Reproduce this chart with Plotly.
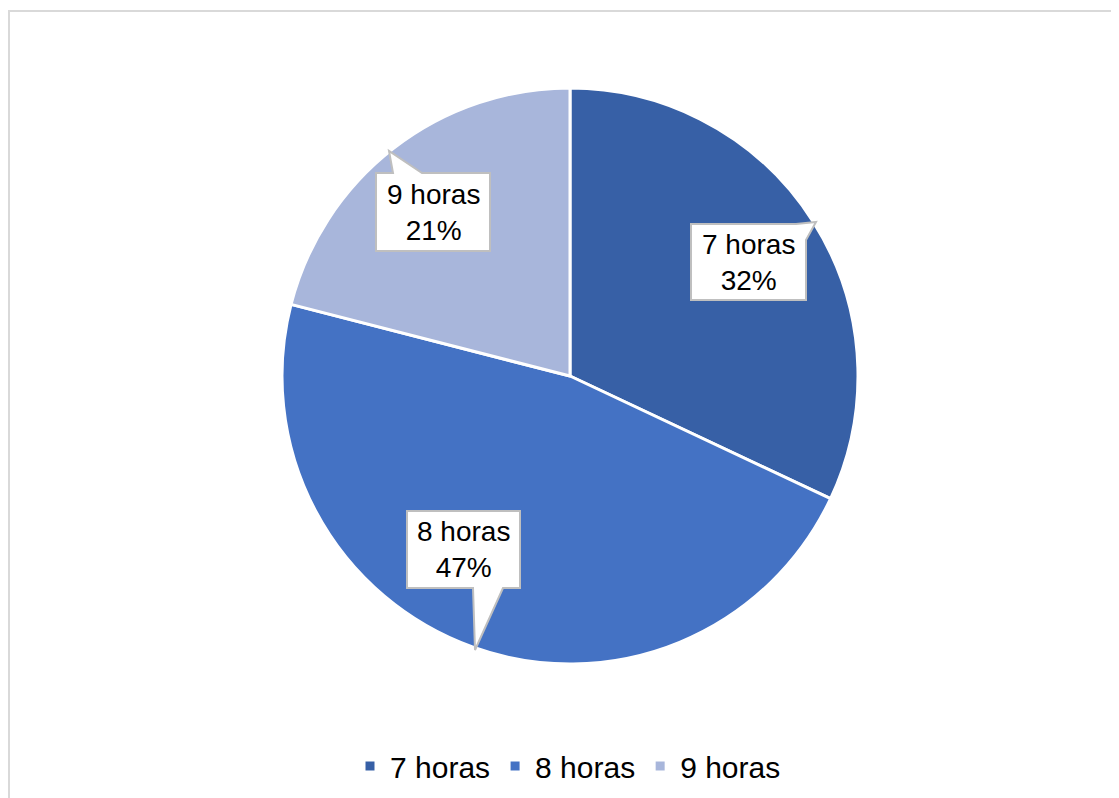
import plotly.graph_objects as go

# horas de trabajo por dia
labels = ["7 horas", "8 horas", "9 horas"]
values = [32, 47, 21]
colors = ["#3760a6", "#4472c4", "#a8b6db"]

W, H = 1119, 798
OFF = 8  # page body margin


def px(x):
    return (x - OFF) / W


def py(y):
    return 1 - (y - OFF) / H


# callout boxes (pixels): box x0, y0, x1, y1 and the three wedge points
callouts = [
    ((691, 224, 806, 300), [(796, 224), (816, 222), (806, 240)]),
    ((407, 511, 520, 588), [(503, 588), (475, 650), (473, 588)]),
    ((376, 173, 490, 251), [(393, 173), (389, 151), (422, 173)]),
]


def callout_path(box, wedge):
    x0, y0, x1, y1 = box
    pts = [(x0, y0), (x1, y0), (x1, y1), (x0, y1)]
    a, tip, b = wedge
    if a[1] == y0 and b[0] == x1:  # top-right corner
        pts = [(x0, y0), a, tip, b, (x1, y1), (x0, y1)]
    elif a[1] == y1:  # bottom edge
        pts = [(x0, y0), (x1, y0), (x1, y1), a, tip, b, (x0, y1)]
    elif a[1] == y0:  # top edge
        pts = [(x0, y0), a, tip, b, (x1, y0), (x1, y1), (x0, y1)]
    return "M " + " L ".join(f"{px(x):.5f},{py(y):.5f}" for x, y in pts) + " Z"


fig = go.Figure()
fig.add_trace(go.Pie(
    labels=labels, values=values, sort=False, direction="clockwise", rotation=0,
    marker=dict(colors=colors, line=dict(color="white", width=3)),
    textinfo="none", hoverinfo="label+percent",
    domain=dict(x=[px(282), px(858)], y=[py(664), py(88)]),
))

shapes = [dict(type="rect", xref="paper", yref="paper",
               x0=px(9), y0=-0.02, x1=1.02, y1=py(11),
               line=dict(color="#d9d9d9", width=2), layer="below")]
annotations = []
total = sum(values)
for (box, wedge), lab, v in zip(callouts, labels, values):
    shapes.append(dict(type="path", xref="paper", yref="paper",
                       path=callout_path(box, wedge), fillcolor="white",
                       line=dict(color="#bfbfbf", width=2), layer="above"))
    cx = (box[0] + box[2]) / 2
    cy = (box[1] + box[3]) / 2
    annotations.append(dict(x=px(cx), y=py(cy), xref="paper", yref="paper",
                            xanchor="center", yanchor="middle",
                            text=f"{lab}<br>{round(100 * v / total)}%",
                            showarrow=False, align="center",
                            font=dict(size=28, color="black")))

fig.update_layout(
    width=W, height=H,
    margin=dict(l=0, r=0, t=0, b=0),
    paper_bgcolor="white", plot_bgcolor="white",
    font=dict(family="Liberation Sans, Arial, sans-serif", color="black"),
    shapes=shapes, annotations=annotations,
    legend=dict(orientation="h", x=px(568), xanchor="center", y=py(766),
                yanchor="middle", font=dict(size=30), traceorder="normal"),
)

fig.write_html("out.html")
